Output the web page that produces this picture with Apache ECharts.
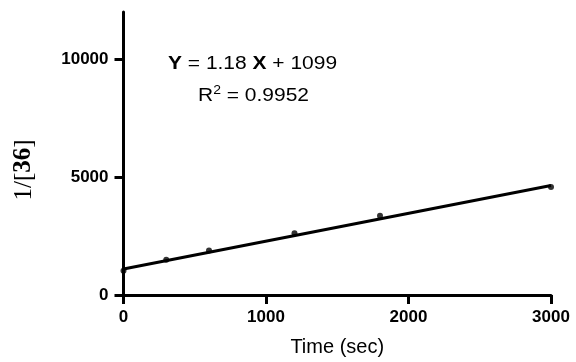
<!DOCTYPE html>
<html><head><meta charset="utf-8">
<script src="https://cdn.jsdelivr.net/npm/echarts@6/dist/echarts.min.js"></script>
<style>html,body{margin:0;padding:0;background:#fff}#c{width:576px;height:362px}</style>
</head><body><div id="c"></div>
<script>
var timeSec = [0, 300, 600, 1200, 1800, 3000];
var invConc = [1030, 1490, 1890, 2620, 3360, 4580];
var fitX = [0, 3000];
var fitY = [1099, 4639];
var xTicks = [0, 1000, 2000, 3000];
var yTicks = [0, 5000, 10000];

var chart = echarts.init(document.getElementById('c'));
var fmt = function (v) { return String(v); };
var bold = {fontFamily: 'Liberation Sans, Arial, sans-serif', fontWeight: 'bold', fontSize: 17, color: '#000', formatter: fmt};
chart.setOption({
  animation: false,
  backgroundColor: '#fff',
  grid: {left: 123.5, right: 25, top: 12, bottom: 64, containLabel: false},
  xAxis: {
    type: 'value', min: 0, max: 3000, interval: 1000,
    name: 'Time (sec)', nameLocation: 'middle', nameGap: 42,
    nameTextStyle: {fontFamily: 'Liberation Sans, Arial, sans-serif', fontSize: 20, color: '#000'},
    axisLine: {lineStyle: {color: '#000', width: 3}},
    axisTick: {length: 9, lineStyle: {color: '#000', width: 3}, customValues: xTicks},
    axisLabel: Object.assign({margin: 14, customValues: xTicks}, bold),
    splitLine: {show: false}
  },
  yAxis: {
    type: 'value', min: 0, max: 12000, interval: 5000,
    axisLine: {show: true, lineStyle: {color: '#000', width: 3}},
    axisTick: {show: true, length: 9, lineStyle: {color: '#000', width: 3}, customValues: yTicks},
    axisLabel: Object.assign({margin: 15, customValues: yTicks}, bold),
    splitLine: {show: false}
  },
  graphic: [
    {type: 'text', x: 168, y: 55, scaleX: 1.165, style: {
      rich: {b: {fontFamily: 'Liberation Sans, Arial', fontWeight: 'bold', fontSize: 18, fill: '#000'},
             n: {fontFamily: 'Liberation Sans, Arial', fontSize: 18, fill: '#000'}},
      text: '{b|Y}{n| = 1.18 }{b|X}{n| + 1099}'}},
    {type: 'text', x: 198, y: 85, scaleX: 1.165, style: {
      rich: {n: {fontFamily: 'Liberation Sans, Arial', fontSize: 18, fill: '#000'},
             s: {fontFamily: 'Liberation Sans, Arial', fontSize: 12, fill: '#000', verticalAlign: 'top', padding: [0,0,10,0]}},
      text: '{n|R}{s|2}{n| = 0.9952}'}},
    {type: 'text', x: 24, y: 170, rotation: Math.PI / 2, style: {
      rich: {n: {fontFamily: 'Liberation Serif, Times New Roman, serif', fontSize: 25, fill: '#000'},
             b: {fontFamily: 'Liberation Serif, Times New Roman, serif', fontWeight: 'bold', fontSize: 25, fill: '#000'}},
      text: '{n|1/[}{b|36}{n|]}', align: 'center', verticalAlign: 'middle'}}
  ],
  series: [
    {type: 'line', data: fitX.map(function (x, i) { return [x, fitY[i]]; }),
     showSymbol: false, lineStyle: {color: '#000', width: 3}, z: 2},
    {type: 'scatter', data: timeSec.map(function (x, i) { return [x, invConc[i]]; }),
     symbol: 'circle', symbolSize: 6, itemStyle: {color: '#000'}, z: 3}
  ]
});
</script></body></html>
